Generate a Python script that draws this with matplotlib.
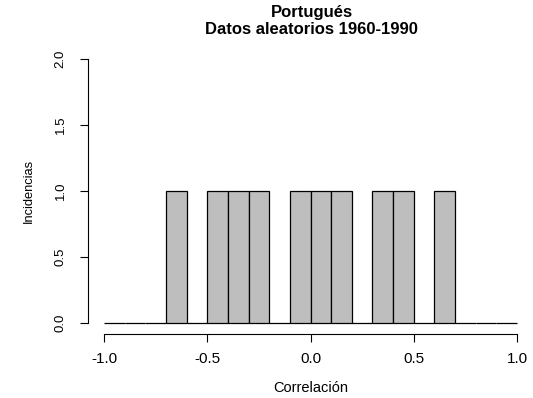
import numpy as np
import matplotlib
matplotlib.use('Agg')
import matplotlib.pyplot as plt

plt.rcParams['font.family'] = ['Liberation Sans', 'DejaVu Sans']

# histograma: cortes cada 0.1 de -1 a 1
bordes = np.round(np.arange(-1.0, 1.0, 0.1), 1)
incidencias = [0, 0, 0, 1, 0, 1, 1, 1, 0, 1, 1, 1, 0, 1, 1, 0, 1, 0, 0, 0]
xticks = [-1.0, -0.5, 0.0, 0.5, 1.0]
yticks = [0.0, 0.5, 1.0, 1.5, 2.0]

fig = plt.figure(figsize=(5.33, 3.98), dpi=100)
ax = fig.add_axes([87.5/533, 1 - 333.6/398, 446/533, 285.2/398])

ax.bar(bordes, incidencias, width=0.1, align='edge', color='#bebebe',
       edgecolor='black', linewidth=0.9)

ax.set_xlim(-1.08, 1.08)
ax.set_ylim(-0.08, 2.08)
for s in ['top', 'right']:
    ax.spines[s].set_visible(False)
ax.spines['bottom'].set_bounds(-1, 1)
ax.spines['left'].set_bounds(0, 2)
ax.spines['bottom'].set_linewidth(0.8)
ax.spines['left'].set_linewidth(0.8)

ax.set_xticks(xticks)
ax.set_xticklabels(['%.1f' % v for v in xticks])
ax.set_yticks(yticks)
ax.set_yticklabels(['%.1f' % v for v in yticks], rotation=90, va='center')
ax.tick_params(direction='out', length=6, width=0.8)
ax.tick_params(axis='x', labelsize=11, pad=7)
ax.tick_params(axis='y', labelsize=9.5, pad=9)

ax.set_xlabel('Correlación', fontsize=10.5, labelpad=11)
ax.set_ylabel('Incidencias', fontsize=9.3, labelpad=14)
fig.text(0.585, 1 - 12/398, 'Portugués', ha='center', va='center',
         fontsize=12, fontweight='bold')
fig.text(0.585, 1 - 30/398, 'Datos aleatorios 1960-1990', ha='center',
         va='center', fontsize=12, fontweight='bold')

fig.savefig('out.png', dpi=100)
